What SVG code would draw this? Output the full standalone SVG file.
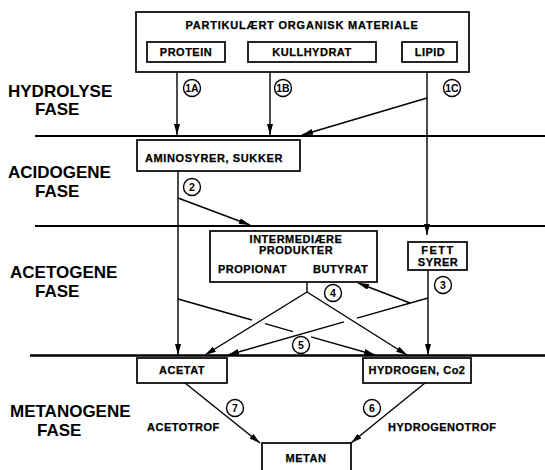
<svg xmlns="http://www.w3.org/2000/svg" width="545" height="470" viewBox="0 0 545 470">
<defs>
<style>
.bx{fill:#fff;stroke:#000;stroke-width:1.7}
.ph{stroke:#000;stroke-width:2;fill:none}
.ln{stroke:#000;stroke-width:1.4;fill:none}
.ar{stroke:#000;stroke-width:1.4;fill:none;marker-end:url(#ah)}
.t{font-family:"Liberation Sans",Arial,sans-serif;font-weight:bold;font-size:11px;letter-spacing:0.5px;fill:#000;stroke:#000;stroke-width:0.25}
.big{font-family:"Liberation Sans",Arial,sans-serif;font-weight:bold;font-size:17px;fill:#000}
.c{fill:#fff;stroke:#000;stroke-width:1.4}
.ct{font-family:"Liberation Sans",Arial,sans-serif;font-weight:bold;font-size:10.5px;fill:#000;text-anchor:middle}
.m{text-anchor:middle}
</style>
<marker id="ah" markerUnits="userSpaceOnUse" markerWidth="11" markerHeight="6" refX="11" refY="3" orient="auto">
<path d="M0,0 L11,3 L0,6 z" fill="#000"/>
</marker>
</defs>

<g id="phase-lines">
<line class="ph" x1="35" y1="136" x2="545" y2="136"/>
<line class="ph" x1="35" y1="226" x2="545" y2="226"/>
<line class="ph" x1="30" y1="355.5" x2="545" y2="355.5" style="stroke-width:2.5"/>
</g>

<g id="phase-labels">
<text class="big" x="8" y="97">HYDROLYSE</text>
<text class="big" x="35" y="115">FASE</text>
<text class="big" x="8" y="178">ACIDOGENE</text>
<text class="big" x="35" y="197">FASE</text>
<text class="big" x="10" y="278">ACETOGENE</text>
<text class="big" x="35" y="297">FASE</text>
<text class="big" x="10" y="417">METANOGENE</text>
<text class="big" x="37" y="436">FASE</text>
</g>

<g id="connectors">
<path class="ar" d="M177,62 V135"/>
<path class="ar" d="M270,62 V135"/>
<path class="ar" d="M427,62 V235"/>
<path class="ar" d="M427,98 L302,135"/>
<path class="ar" d="M178,171 V355"/>
<path class="ar" d="M178,198 L250,225"/>
<path class="ln" d="M307,282 V292"/>
<path class="ar" d="M307,292 L205,355"/>
<path class="ar" d="M307,292 L407,355"/>
<path class="ar" d="M428,270 V355"/>
<path class="ln" d="M428,298 L357,318.2"/>
<path class="ar" d="M344,321.9 L228,355"/>
<path class="ar" d="M410,303 L358,283"/>
<path class="ln" d="M178,299 L252,320"/>
<path class="ln" d="M265,323.7 L293,331.7"/>
<path class="ar" d="M311,336.8 L375,355"/>
<path class="ar" d="M185,383 L260,443"/>
<path class="ar" d="M425,383 L351,443"/>
</g>

<g id="n-partikulaert">
<rect class="bx" x="136" y="12" width="333" height="60"/>
<text class="t m" x="302" y="29" style="letter-spacing:0.8px">PARTIKULÆRT ORGANISK MATERIALE</text>
</g>
<g id="n-protein">
<rect class="bx" x="147" y="42" width="78" height="20"/>
<text class="t m" x="186" y="56">PROTEIN</text>
</g>
<g id="n-kullhydrat">
<rect class="bx" x="248" y="42" width="128" height="20"/>
<text class="t m" x="312" y="56">KULLHYDRAT</text>
</g>
<g id="n-lipid">
<rect class="bx" x="402" y="42" width="55" height="20"/>
<text class="t m" x="430" y="56">LIPID</text>
</g>
<g id="n-aminosyrer">
<rect class="bx" x="137" y="140" width="163" height="31"/>
<text class="t" x="145" y="162" style="letter-spacing:0.6px">AMINOSYRER, SUKKER</text>
</g>
<g id="n-intermediaere">
<rect class="bx" x="210" y="231" width="167" height="51"/>
<text class="t m" x="296" y="243">INTERMEDIÆRE</text>
<text class="t m" x="296" y="254">PRODUKTER</text>
<text class="t" x="218" y="273">PROPIONAT</text>
<text class="t" x="313" y="273">BUTYRAT</text>
</g>
<g id="n-fettsyrer">
<rect class="bx" x="408" y="242" width="59" height="28"/>
<text class="t m" x="438" y="254" style="letter-spacing:1.5px">FETT</text>
<text class="t m" x="438" y="266">SYRER</text>
</g>
<g id="n-acetat">
<rect class="bx" x="137" y="358" width="90" height="25"/>
<text class="t m" x="182" y="374">ACETAT</text>
</g>
<g id="n-hydrogen">
<rect class="bx" x="363" y="358" width="108" height="25"/>
<text class="t m" x="417" y="374">HYDROGEN, Co2</text>
</g>
<g id="n-metan">
<rect class="bx" x="262" y="443" width="89" height="40"/>
<text class="t m" x="306" y="462">METAN</text>
</g>

<g id="labels">
<text class="t" x="147" y="431">ACETOTROF</text>
<text class="t" x="388" y="431">HYDROGENOTROF</text>
</g>

<g id="step-markers">
<circle class="c" cx="192" cy="88" r="8.5"/><text class="ct" x="192" y="92">1A</text>
<circle class="c" cx="283" cy="88" r="8.5"/><text class="ct" x="283" y="92">1B</text>
<circle class="c" cx="452" cy="88" r="8.5"/><text class="ct" x="452" y="92">1C</text>
<circle class="c" cx="192" cy="187" r="8.5"/><text class="ct" x="192" y="191">2</text>
<circle class="c" cx="443" cy="285" r="8.5"/><text class="ct" x="443" y="289">3</text>
<circle class="c" cx="333" cy="293" r="8.5"/><text class="ct" x="333" y="297">4</text>
<circle class="c" cx="301" cy="345" r="8.5"/><text class="ct" x="301" y="349">5</text>
<circle class="c" cx="372" cy="408" r="8.5"/><text class="ct" x="372" y="412">6</text>
<circle class="c" cx="235" cy="408" r="8.5"/><text class="ct" x="235" y="412">7</text>
</g>
</svg>
